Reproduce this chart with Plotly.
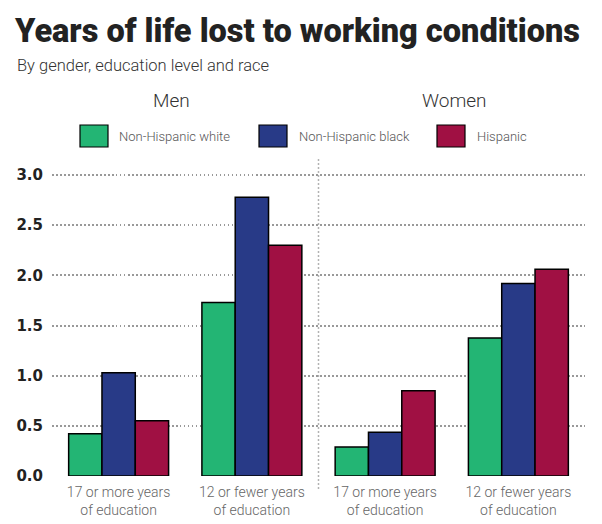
import plotly.graph_objects as go

groups = ["men_17", "men_12", "women_17", "women_12"]
group_labels = ["17 or more years<br>of education", "12 or fewer years<br>of education",
                "17 or more years<br>of education", "12 or fewer years<br>of education"]
series = ["Non-Hispanic white", "Non-Hispanic black", "Hispanic"]
white = [0.42, 1.73, 0.29, 1.375]
black = [1.03, 2.78, 0.435, 1.92]
hispanic = [0.55, 2.30, 0.85, 2.06]
colors = ["#23B574", "#283A87", "#A01043"]
yticks = [0.0, 0.5, 1.0, 1.5, 2.0, 2.5, 3.0]
ytick_text = ["0.0", "0.5", "1.0", "1.5", "2.0", "2.5", "3.0"]

W, H = 602, 524
L, R, T, B = 52, 17, 157, 48
PW, PH = W - L - R, H - T - B

fig = go.Figure()
xs = list(range(len(groups)))
for name, vals, col in zip(series, [white, black, hispanic], colors):
    fig.add_trace(go.Bar(x=xs, y=vals, name=name, marker=dict(color=col, line=dict(color="#000", width=1.5)),
                         showlegend=False))

fig.update_layout(
    width=W, height=H, margin=dict(l=L, r=R, t=T, b=B, autoexpand=False),
    plot_bgcolor="white", paper_bgcolor="white",
    barmode="group", bargap=0.25, bargroupgap=0,
    xaxis=dict(range=[-0.5, 3.5], tickvals=xs, ticktext=group_labels, showgrid=False, zeroline=False,
               ticks="outside", ticklen=3, tickcolor="white", automargin=False,
               tickfont=dict(family="Roboto", size=14, color="#666", weight=300)),
    yaxis=dict(range=[0, 3.18], tickvals=yticks, ticktext=ytick_text, showgrid=True,
               gridcolor="#999", griddash="1.5px,2.5px", gridwidth=1.5, zeroline=False,
               ticks="outside", ticklen=5, tickcolor="white", automargin=False,
               tickfont=dict(family="DejaVu Sans", size=15, color="#222", weight="bold")),
)

# separator between panels
fig.add_shape(type="line", xref="x", yref="paper", x0=1.5, x1=1.5, y0=-0.04, y1=1.0,
              line=dict(color="#999", width=1.5, dash="1.5px,2.5px"))

def px(x):
    return (x - L) / PW

def py(y):
    return (H - B - y) / PH

anns = [
    dict(text="Years of life lost to working conditions", x=px(12), y=py(31), xanchor="left", yanchor="middle",
         font=dict(family="Roboto", size=32.5, color="#222", weight=900)),
    dict(text="By gender, education level and race", x=px(15), y=py(65), xanchor="left", yanchor="middle",
         font=dict(family="Roboto", size=16.5, color="#333", weight=300)),
    dict(text="Men", x=px(171), y=py(100), xanchor="center", yanchor="middle",
         font=dict(family="Roboto", size=19, color="#333", weight=300)),
    dict(text="Women", x=px(454), y=py(100), xanchor="center", yanchor="middle",
         font=dict(family="Roboto", size=19, color="#333", weight=300)),
]
legend_boxes = [(80, 117), (259, 297), (437, 475)]
for (bx, tx), name, col in zip(legend_boxes, series, colors):
    fig.add_shape(type="rect", xref="paper", yref="paper", x0=px(bx), x1=px(bx + 28), y0=py(147), y1=py(125),
                  fillcolor=col, line=dict(color="#000", width=1.2))
    anns.append(dict(text=name, x=px(tx), y=py(136), xanchor="left", yanchor="middle",
                     font=dict(family="Roboto", size=13, color="#555", weight=300)))
for a in anns:
    a.update(xref="paper", yref="paper", showarrow=False)
    fig.add_annotation(**a)

fig.write_html("out.html")
